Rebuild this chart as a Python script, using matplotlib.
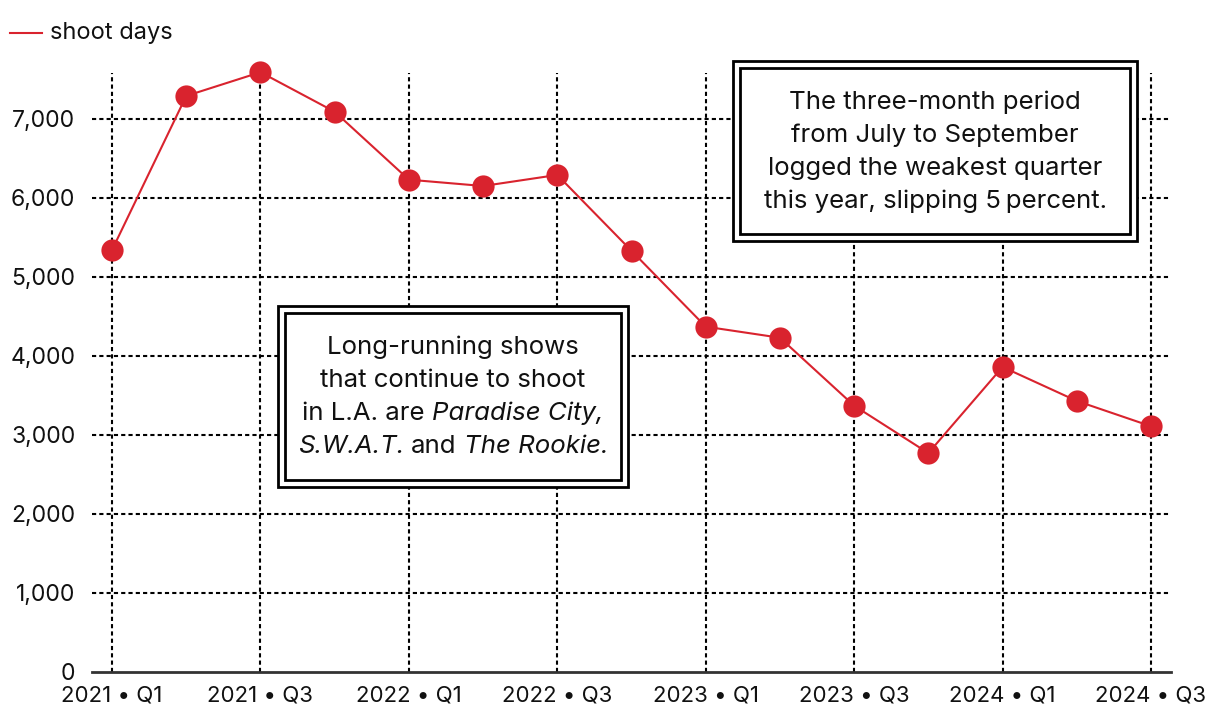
import matplotlib
matplotlib.use("Agg")
import matplotlib.pyplot as plt
from matplotlib.patches import Rectangle
from matplotlib.ticker import FuncFormatter

quarters = ["2021 • Q1", "2021 • Q2", "2021 • Q3", "2021 • Q4",
            "2022 • Q1", "2022 • Q2", "2022 • Q3", "2022 • Q4",
            "2023 • Q1", "2023 • Q2", "2023 • Q3", "2023 • Q4",
            "2024 • Q1", "2024 • Q2", "2024 • Q3"]
shoot_days = [5340, 7290, 7590, 7090, 6230, 6150, 6290, 5330,
              4370, 4230, 3370, 2770, 3860, 3430, 3110]
yticks = [0, 1000, 2000, 3000, 4000, 5000, 6000, 7000]

FONT = "Inter"
plt.rcParams['font.family'] = [FONT, 'DejaVu Sans']

RED = "#d9232e"
TXT = "#111111"
W, H = 1220, 728
fig = plt.figure(figsize=(W/100, H/100), dpi=100)
ax = fig.add_axes([92/W, 1-672/H, (1171-92)/W, (672-73)/H])

x = list(range(len(quarters)))
ax.plot(x, shoot_days, color=RED, lw=1.5, marker='o', ms=16,
        markeredgewidth=0, clip_on=False, zorder=5, label="shoot days")

ax.set_xlim(-0.27, 14.27)
ax.set_ylim(0, 7580)
ax.set_yticks(yticks)
ax.yaxis.set_major_formatter(FuncFormatter(lambda v, p: f"{int(v):,}"))
ax.set_xticks(x[::2])
ax.set_xticklabels(quarters[::2])
ax.tick_params(axis='both', length=0, colors=TXT)
ax.tick_params(axis='y', pad=12, labelsize=16.5)
ax.tick_params(axis='x', pad=10, labelsize=16)

for s in ['top', 'right', 'left']:
    ax.spines[s].set_visible(False)
ax.spines['bottom'].set_color('#333333')
ax.spines['bottom'].set_linewidth(2)

for yv in yticks[1:]:
    ax.axhline(yv, color='black', lw=1.5, ls=(0, (2, 1.5)), zorder=1)
for xv in x[::2]:
    ax.axvline(xv, color='black', lw=1.5, ls=(0, (2, 1.5)), zorder=1)

# legend
fig.add_artist(plt.Line2D([10/W, 42/W], [1-33/H, 1-33/H], color=RED, lw=1.5))
fig.text(50/W, 1-33/H, "shoot days", fontsize=17, va='center', ha='left', color=TXT)

renderer = fig.canvas.get_renderer()
FS = 18.6


def text_width(s, style):
    t = fig.text(0, 0, s, fontsize=FS, style=style)
    w = t.get_window_extent(renderer).width
    t.remove()
    return w


def rich_line(pieces, cx, cy):
    """pieces: list of (text, style); a piece equal to ' ' is a space."""
    space = text_width("x x", 'normal') - text_width("xx", 'normal')
    widths = [space if s == " " else text_width(s, st) for s, st in pieces]
    total = sum(widths)
    xpos = cx - total / 2
    for (s, st), w in zip(pieces, widths):
        if s != " ":
            fig.text(xpos / W, 1 - cy / H, s, fontsize=FS, style=st,
                     ha='left', va='baseline', color=TXT, zorder=11)
        xpos += w


def box(x0, y0, x1, y1, lines, cx, baselines):
    for (a, b, c, d) in [(x0, y0, x1, y1), (x0+7, y0+7, x1-7, y1-7)]:
        fig.add_artist(Rectangle((a/W, 1-d/H), (c-a)/W, (d-b)/H,
                                 transform=fig.transFigure, fill=(a == x0),
                                 facecolor='white', edgecolor='black', lw=2, zorder=10))
    for pieces, by in zip(lines, baselines):
        rich_line(pieces, cx, by)


N, I = 'normal', 'italic'
box(278, 306, 628, 487,
    [[("Long-running shows", N)],
     [("that continue to shoot", N)],
     [("in L.A. are", N), (" ", N), ("Paradise City,", I)],
     [("S.W.A.T.", I), (" ", N), ("and", N), (" ", N), ("The Rookie.", I)]],
    453, [354, 387, 420, 453])
box(733, 61, 1137, 241,
    [[("The three-month period", N)],
     [("from July to September", N)],
     [("logged the weakest quarter", N)],
     [("this year, slipping 5\u2009percent.", N)]],
    935, [109, 142, 175, 208])

fig.savefig("out.png", dpi=100)
